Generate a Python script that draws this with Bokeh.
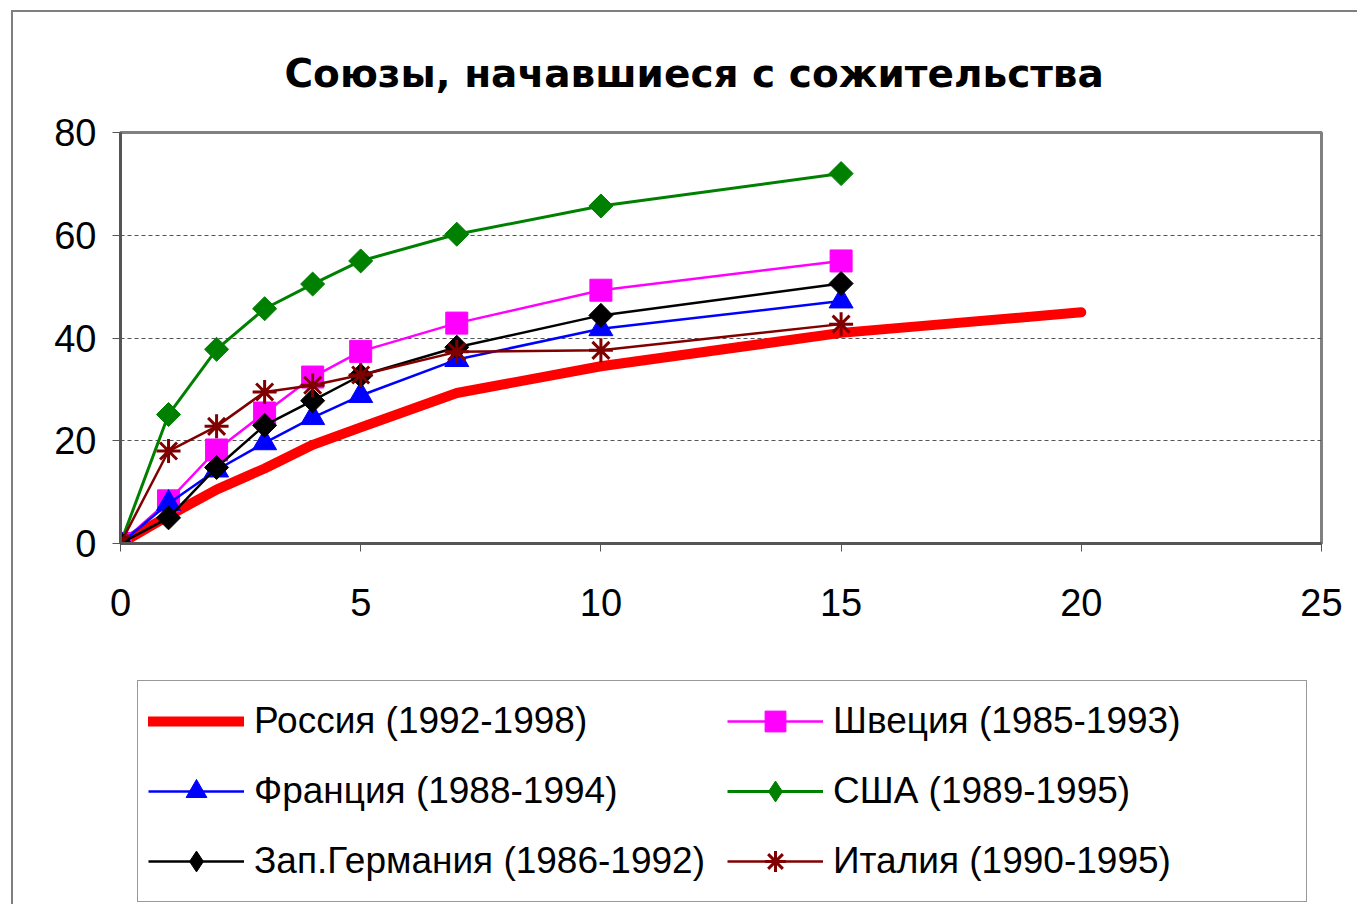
import math
from bokeh.plotting import figure
from bokeh.models import Range1d, Legend, LegendItem, FixedTicker
from bokeh.layouts import column
from bokeh.embed import file_html
from bokeh.resources import INLINE

title_text = "Союзы, начавшиеся с сожительства"

years = [0, 1, 2, 3, 4, 5, 7, 10, 15]
years_ru = [0, 1, 2, 3, 4, 5, 7, 10, 15, 20]

russia = [0, 5.4, 10.5, 14.6, 19.2, 22.6, 29.3, 34.5, 41.0, 45.0]
sweden = [0, 8.3, 18.2, 25.4, 32.4, 37.4, 42.9, 49.3, 55.0]
france = [0, 7.8, 14.3, 19.6, 24.5, 28.8, 35.8, 41.8, 47.2]
usa = [0, 25.1, 37.8, 45.7, 50.5, 55.0, 60.2, 65.7, 72.0]
germany = [0, 5.0, 14.8, 23.0, 27.8, 32.7, 38.2, 44.4, 50.6]
italy = [0, 18.0, 22.8, 29.5, 30.8, 32.8, 37.3, 37.6, 42.7]

labels = ["Россия (1992-1998)", "Франция (1988-1994)", "Зап.Германия (1986-1992)",
          "Швеция (1985-1993)", "США (1989-1995)", "Италия (1990-1995)"]

x_ticks = [0, 5, 10, 15, 20, 25]
y_ticks = [0, 20, 40, 60, 80]

FONT = "Liberation Sans"

# ---------- main chart ----------
p = figure(width=1344, height=640, output_backend="svg", toolbar_location=None,
           x_range=Range1d(0, 25), y_range=Range1d(0, 80),
           min_border_left=107, min_border_right=36, min_border_top=119, min_border_bottom=109)

p.title.text = title_text
p.title.text_font = "DejaVu Sans"
p.title.text_font_style = "bold"
p.title.text_font_size = "39px"
p.title.text_color = "black"
p.title.align = "left"
p.title.offset = 164
p.title.standoff = 73

p.outline_line_color = "#808080"
p.outline_line_width = 3

for ax in (p.xaxis[0], p.yaxis[0]):
    ax.axis_line_color = "#555555"
    ax.axis_line_width = 3
    ax.major_tick_line_color = "#555555"
    ax.major_tick_line_width = 1
    ax.major_tick_in = 0
    ax.major_tick_out = 8
    ax.minor_tick_line_color = None
    ax.major_label_text_font = FONT
    ax.major_label_text_font_size = "38px"
    ax.major_label_text_color = "black"

p.xaxis[0].ticker = FixedTicker(ticks=x_ticks)
p.yaxis[0].ticker = FixedTicker(ticks=y_ticks)
p.xaxis[0].major_label_standoff = 37
p.yaxis[0].major_label_standoff = 16

p.xgrid.grid_line_color = None
p.ygrid.grid_line_color = "#555555"
p.ygrid.grid_line_dash = "4 3"
p.ygrid.grid_line_width = 1

# colour, marker, size, line width, marker angle
styles = {
    "russia": ("#FF0000", None, 0, 10, 0),
    "sweden": ("#FF00FF", "square", 22, 2.5, 0),
    "france": ("#0000FF", "triangle", 24, 2.5, 0),
    "usa": ("#008000", "square", 17, 3, math.pi / 4),
    "germany": ("#000000", "square", 17, 2.5, math.pi / 4),
    "italy": ("#800000", "asterisk", 24, 2.5, 0),
}
# legend keys use a plain diamond (legend glyphs ignore the angle)
legend_markers = {"usa": "diamond", "germany": "diamond"}

data = {"russia": (years_ru, russia), "sweden": (years, sweden), "france": (years, france),
        "usa": (years, usa), "germany": (years, germany), "italy": (years, italy)}


def draw(fig, name, xs, ys, for_legend=False):
    col, mk, sz, lw, ang = styles[name]
    if for_legend and name in legend_markers:
        mk, ang = legend_markers[name], 0
    rs = []
    if mk is None:
        rs.append(fig.line(xs, ys, line_color=col, line_width=lw, line_cap="round", line_join="round"))
        return rs
    rs.append(fig.line(xs, ys, line_color=col, line_width=lw))
    if mk == "asterisk":
        rs.append(fig.scatter(xs, ys, marker=mk, size=sz, line_color=col, line_width=3))
    else:
        rs.append(fig.scatter(xs, ys, marker=mk, size=sz, angle=ang, fill_color=col, line_color=col))
    return rs


for name in ["russia", "sweden", "france", "usa", "germany", "italy"]:
    draw(p, name, *data[name])

# ---------- legend panel ----------
q = figure(width=1344, height=252, output_backend="svg", toolbar_location=None,
           x_range=Range1d(0, 1), y_range=Range1d(0, 1),
           min_border_left=0, min_border_right=0, min_border_top=0, min_border_bottom=0)
q.axis.visible = False
q.grid.visible = False
q.outline_line_color = None

# legend-only glyphs placed outside the visible range
leg_r = {name: draw(q, name, [-5, -4], [-5, -5], for_legend=True) for name in styles}
order = ["russia", "france", "germany", "sweden", "usa", "italy"]
items = [LegendItem(label=labels[i], renderers=leg_r[n]) for i, n in enumerate(order)]

legend = Legend(items=items, location=(17, 2), orientation="vertical", nrows=3,
                label_text_font=FONT, label_text_font_size="37px", label_text_color="black",
                glyph_width=96, glyph_height=52, label_height=60, label_width=463,
                label_standoff=10, spacing=10, padding=10, margin=0,
                border_line_color="#333333", border_line_width=1,
                background_fill_color="white")
q.add_layout(legend, "center")

layout = column(p, q, spacing=0)
layout.margin = (10, 0, 0, 11)
layout.styles = {"border-left": "2px solid #7f7f7f", "border-top": "2px solid #7f7f7f"}

open("out.html", "w").write(file_html(layout, INLINE))
